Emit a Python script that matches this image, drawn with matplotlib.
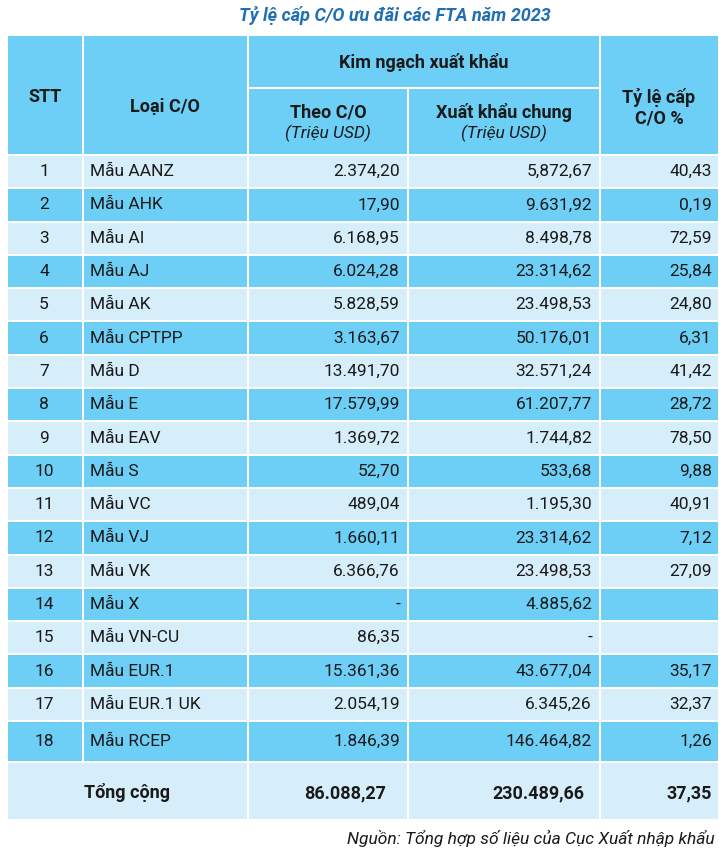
import matplotlib
matplotlib.use("Agg")
import matplotlib.pyplot as plt
from matplotlib.patches import Rectangle

stt = list(range(1, 19))
loai = ["Mẫu AANZ", "Mẫu AHK", "Mẫu AI", "Mẫu AJ", "Mẫu AK", "Mẫu CPTPP", "Mẫu D",
        "Mẫu E", "Mẫu EAV", "Mẫu S", "Mẫu VC", "Mẫu VJ", "Mẫu VK", "Mẫu X",
        "Mẫu VN-CU", "Mẫu EUR.1", "Mẫu EUR.1 UK", "Mẫu RCEP"]
theo_co = ["2.374,20", "17,90", "6.168,95", "6.024,28", "5.828,59", "3.163,67", "13.491,70",
           "17.579,99", "1.369,72", "52,70", "489,04", "1.660,11", "6.366,76", "-",
           "86,35", "15.361,36", "2.054,19", "1.846,39"]
xk_chung = ["5,872,67", "9.631,92", "8.498,78", "23.314,62", "23.498,53", "50.176,01",
            "32.571,24", "61.207,77", "1.744,82", "533,68", "1.195,30", "23.314,62",
            "23.498,53", "4.885,62", "-", "43.677,04", "6.345,26", "146.464,82"]
ty_le = ["40,43", "0,19", "72,59", "25,84", "24,80", "6,31", "41,42", "28,72", "78,50",
         "9,88", "40,91", "7,12", "27,09", "", "", "35,17", "32,37", "1,26"]
tong = ["86.088,27", "230.489,66", "37,35"]

plt.rcParams["font.family"] = ["Liberation Sans Narrow", "Roboto", "DejaVu Sans"]

fig = plt.figure(figsize=(7.19, 8.5), dpi=100)
ax = fig.add_axes([0, 0, 1, 1])
ax.set_xlim(0, 719)
ax.set_ylim(850, 0)
ax.axis("off")

DARK = "#6dcff6"
LIGHT = "#d6eefa"
TXT = "#1a1a1a"
cols = [7, 83, 248, 408, 600, 719]
g = 1.0  # half white gap


def cell(x0, x1, y0, y1, color):
    ax.add_patch(Rectangle((x0 + g, y0 + g), x1 - x0 - 2 * g, y1 - y0 - 2 * g,
                           facecolor=color, edgecolor="none"))


# header
cell(cols[0], cols[1], 35, 155, DARK)
cell(cols[1], cols[2], 35, 155, DARK)
cell(cols[2], cols[4], 35, 88, DARK)
cell(cols[2], cols[3], 88, 155, DARK)
cell(cols[3], cols[4], 88, 155, DARK)
cell(cols[4], cols[5], 35, 155, DARK)
hb = dict(fontsize=13, fontweight="bold", color=TXT, ha="center", va="center")
ax.text(45, 97, "STT", **hb)
ax.text(165, 107, "Loại C/O", **hb)
ax.text(424, 62, "Kim ngạch xuất khẩu", **hb)
ax.text(328, 112, "Theo C/O", **hb)
ax.text(504, 112, "Xuất khẩu chung", **hb)
ax.text(328, 133, "(Triệu USD)", fontsize=12.5, style="italic", color=TXT, ha="center", va="center")
ax.text(504, 133, "(Triệu USD)", fontsize=12.5, style="italic", color=TXT, ha="center", va="center")
ax.text(659, 97, "Tỷ lệ cấp", **hb)
ax.text(659, 118, "C/O %", **hb)

ax.text(395, 15, "Tỷ lệ cấp C/O ưu đãi các FTA năm 2023", fontsize=13, fontweight="bold",
        style="italic", color="#1f6fb5", ha="center", va="center")

# body rows
tops = [155 + i * (566 / 17) for i in range(18)] + [762]
for i in range(18):
    y0 = tops[i]
    y1 = tops[i + 1]
    color = LIGHT if i % 2 == 0 else DARK
    for c in range(5):
        cell(cols[c], cols[c + 1], y0, y1, color)
    yc = (y0 + y1) / 2
    kw = dict(fontsize=12.5, color=TXT, va="center")
    ax.text(44, yc, str(stt[i]), ha="center", **kw)
    ax.text(90, yc, loai[i], ha="left", **kw)
    ax.text(cols[3] - 8, yc, theo_co[i], ha="right", **kw)
    ax.text(cols[4] - 8, yc, xk_chung[i], ha="right", **kw)
    ax.text(cols[5] - 7, yc, ty_le[i], ha="right", **kw)

# total row
cell(cols[0], cols[2], 762, 820, LIGHT)
for c in range(2, 5):
    cell(cols[c], cols[c + 1], 762, 820, LIGHT)
tb = dict(fontsize=13, fontweight="bold", color=TXT, va="center")
ax.text(127, 793, "Tổng cộng", ha="center", **tb)
ax.text(386, 793, tong[0], ha="right", **tb)
ax.text(584, 793, tong[1], ha="right", **tb)
ax.text(cols[5] - 7, 793, tong[2], ha="right", **tb)

ax.text(715, 838, "Nguồn: Tổng hợp số liệu của Cục Xuất nhập khẩu", fontsize=12.5,
        style="italic", color=TXT, ha="right", va="center")

fig.savefig("out.png", dpi=100)
